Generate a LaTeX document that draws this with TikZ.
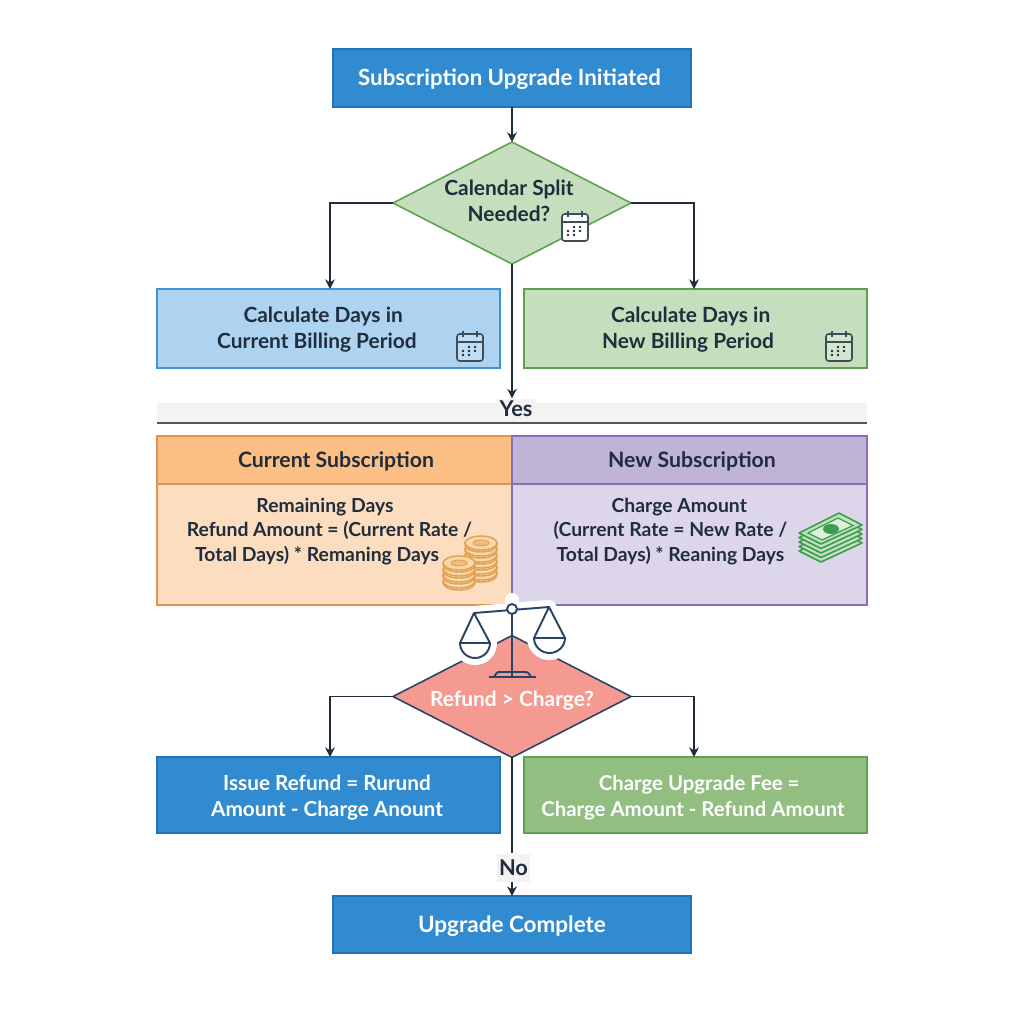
\documentclass[tikz,border=0pt]{standalone}
\usepackage{fontspec}
\setmainfont{Lato}
\usetikzlibrary{shapes.geometric,arrows.meta}
\definecolor{Ink}{HTML}{1F2D3D}
\definecolor{Navy}{HTML}{2A4468}
\definecolor{BlueFill}{HTML}{308BD0}
\definecolor{BlueEdge}{HTML}{2272B4}
\definecolor{PaleBlue}{HTML}{AED3F0}
\definecolor{PaleBlueEdge}{HTML}{3D94D8}
\definecolor{PaleGreen}{HTML}{C5DFBE}
\definecolor{GreenEdge}{HTML}{5FA050}
\definecolor{MidGreen}{HTML}{93BE82}
\definecolor{OrangeHead}{HTML}{FBBF85}
\definecolor{OrangeBody}{HTML}{FCDDBF}
\definecolor{OrangeEdge}{HTML}{DD9550}
\definecolor{PurpleHead}{HTML}{BFB3D8}
\definecolor{PurpleBody}{HTML}{DDD6EA}
\definecolor{PurpleEdge}{HTML}{8A6FB5}
\definecolor{Salmon}{HTML}{F49A90}
\definecolor{Band}{HTML}{F3F3F3}
\definecolor{CoinFill}{HTML}{F9D7A6}
\definecolor{CoinEdge}{HTML}{E0A052}
\definecolor{CashEdge}{HTML}{3E9B4F}
\definecolor{CashFill}{HTML}{BFE3BE}
\tikzset{
  x=.02cm,y=-.02cm,
  flowbox/.style={draw,rectangle,line width=.9pt,inner sep=0pt,outer sep=0pt},
  decide/.style={draw,diamond,line width=.9pt,inner sep=0pt,outer sep=0pt,minimum width=4.76cm,minimum height=2.44cm},
  lbl/.style={font=\fontsize{11.9}{14.8}\selectfont\bfseries,text=Ink,align=center,inner sep=0pt},
  lblw/.style={lbl,text=white},
  lblbody/.style={lbl,font=\fontsize{11}{14.1}\selectfont\bfseries},
  link/.style={line width=.8pt,draw=Ink,-{Stealth[length=5.5pt,width=5.5pt]}},
  wire/.style={line width=.8pt,draw=Ink},
  calicon/.pic={
    \fill[white,fill opacity=#1,rounded corners=1.5pt] (-13,-12) rectangle (13,15);
    \draw[line width=.9pt,draw=Ink!85,rounded corners=1.5pt] (-13,-12) rectangle (13,15);
    \draw[line width=.9pt,draw=Ink!85] (-13,-4) -- (13,-4);
    \draw[line width=.9pt,draw=Ink!85] (-7,-15) -- (-7,-9) (7,-15) -- (7,-9);
    \foreach \px/\py in {-1/1,5/1,-7/5,-1/5,5/5,-7/9,-1/9}
      \fill[Ink] (\px,\py) circle (1.4);
  },
  coinstack/.pic={
    \foreach \ly in {#1,...,0}{
      \draw[line width=.8pt,draw=CoinEdge,fill=CoinFill] (-16,\ly*6) -- (-16,\ly*6+2) arc[start angle=180,end angle=360,x radius=16,y radius=-7] -- (16,\ly*6) -- cycle;
      \draw[line width=.8pt,draw=CoinEdge,fill=CoinFill] (0,\ly*6) ellipse[x radius=16,y radius=7];
    }
    \draw[line width=.5pt,draw=CoinEdge,fill=CoinEdge!45!CoinFill] (0,0) ellipse[x radius=8,y radius=3];
  },
}
\begin{document}
\begin{tikzpicture}
\useasboundingbox (0,0) rectangle (1024,1024);
% top of the flow
\node[flowbox,fill=BlueFill,draw=BlueEdge,minimum width=7.16cm,minimum height=1.16cm] (start) at (512,78) {};
\node[lblw,font=\fontsize{12.7}{14.8}\selectfont\bfseries] (starttext) at (509.5,79) {Subscription Upgrade Initiated};
\node[decide,fill=PaleGreen,draw=GreenEdge] (split) at (512,203) {};
\node[lbl] (splittext) at (509,200.5) {Calendar Split\\Needed?};
\pic at (575,226) {calicon=1};
\node[flowbox,fill=PaleBlue,draw=PaleBlueEdge,minimum width=6.86cm,minimum height=1.58cm] (oldperiod) at (328.5,328.5) {};
\node[lbl] (oldtext) at (317,330) {\hspace*{7pt}Calculate Days in\\Current Billing Period};
\pic at (470,346) {calicon=.25};
\node[flowbox,fill=PaleGreen,draw=GreenEdge,minimum width=6.86cm,minimum height=1.58cm] (newperiod) at (695.5,328.5) {};
\node[lbl] (newtext) at (688,330) {\hspace*{3pt}Calculate Days in\\New Billing Period};
\pic at (839,346) {calicon=.25};
\coordinate (oldin) at (330,289);
\coordinate (newin) at (694,289);
\draw[link] (start) -- (split);
\draw[link] (split.west) -| (oldin);
\draw[link] (split.east) -| (newin);
% yes band
\node[rectangle,fill=Band,inner sep=0pt,outer sep=0pt,minimum width=14.2cm,minimum height=.4cm] (band) at (512,413) {};
\draw[line width=1pt,draw=Ink!80] (band.south west) -- (band.south east);
\node[lbl,fill=Band,inner xsep=2pt,inner ysep=1pt,font=\fontsize{12.4}{14.8}\selectfont\bfseries] (yes) at (516,408.5) {Yes};
\draw[link] (split.south) -- (yes.north -| split.south);
% the two subscriptions
\node[flowbox,fill=OrangeBody,draw=OrangeEdge,minimum width=7.1cm,minimum height=2.42cm] (curbody) at (334.5,544.5) {};
\node[flowbox,fill=PurpleBody,draw=PurpleEdge,minimum width=7.1cm,minimum height=2.42cm] (newbody) at (689.5,544.5) {};
\node[flowbox,fill=OrangeHead,draw=OrangeEdge,minimum width=7.1cm,minimum height=.96cm] (curhead) at (334.5,460) {};
\node[flowbox,fill=PurpleHead,draw=PurpleEdge,minimum width=7.1cm,minimum height=.96cm] (newhead) at (689.5,460) {};
\node[lbl,font=\fontsize{12.1}{14.8}\selectfont\bfseries] (curheadtext) at (336,461) {Current Subscription};
\node[lbl,font=\fontsize{12.1}{14.8}\selectfont\bfseries] (newheadtext) at (692,461) {New Subscription};
\node[lblbody] (curtext) at (325,531.5) {Remaining Days\\\hspace*{5pt}Refund Amount = (Current Rate /\\Total Days) * Remaning Days\hspace*{9pt}};
\node[lblbody] (newtext2) at (670.5,531.5) {\hspace*{10pt}Charge Amount\\(Current Rate = New Rate /\\Total Days) * Reaning Days};
\pic at (481,543) {coinstack=5};
\pic at (459,563) {coinstack=3};
% cash stack
\foreach \ly in {4,...,0}
  \draw[line width=.9pt,draw=CashEdge,fill=CashFill,line join=round] (799,533+\ly*4.5) -- (839,513+\ly*4.5) -- (862,525+\ly*4.5) -- (821,544+\ly*4.5) -- cycle;
\draw[line width=.7pt,draw=CashEdge,fill=CashFill!55!white] (808,533) -- (838,518) -- (853,525.5) -- (822,540) -- cycle;
\fill[CashEdge] (831,529) ellipse[x radius=8,y radius=5];
% second decision
\node[decide,fill=Salmon,draw=Navy] (cmp) at (512,696.5) {};
\node[lblw] (cmptext) at (512,701) {Refund > Charge?};
% scale with a white halo
\draw[white,line width=8pt,line cap=round,line join=round,fill=white] (474,613) -- (549,607)
  (474,613) -- (460,643) arc[start angle=180,end angle=360,x radius=15,y radius=-15] -- cycle
  (549,607) -- (534,638) arc[start angle=180,end angle=360,x radius=15.5,y radius=-15] -- cycle
  (512,609) -- (512,600);
\draw[Navy,line width=1.1pt,line join=round] (512,609) -- (512,677)
  (489,677) -- (536,677)
  (494,677) .. controls (497,672) and (497,672) .. (501,672) -- (524,672) .. controls (528,672) and (528,672) .. (531,677)
  (474,613) -- (549,607)
  (490,643) -- (474,613) -- (460,643) -- cycle
  (460,643) arc[start angle=180,end angle=360,x radius=15,y radius=-15]
  (565,638) -- (549,607) -- (534,638) -- cycle
  (534,638) arc[start angle=180,end angle=360,x radius=15.5,y radius=-15];
\draw[Navy,line width=1.1pt,fill=white] (512,609) circle (5);
% lower row
\node[flowbox,fill=BlueFill,draw=BlueEdge,minimum width=6.86cm,minimum height=1.52cm] (refund) at (328.5,795) {};
\node[lblw,font=\fontsize{11.8}{14.8}\selectfont\bfseries] (refundtext) at (327,798) {Issue Refund = Rurund\\Amount - Charge Anount};
\node[flowbox,fill=MidGreen,draw=GreenEdge,minimum width=6.86cm,minimum height=1.52cm] (charge) at (695.5,795) {};
\node[lblw,font=\fontsize{11.6}{14.8}\selectfont\bfseries] (chargetext) at (693,798) {\hspace*{7pt}Charge Upgrade Fee =\\Charge Amount - Refund Amount};
\coordinate (refundin) at (330,757);
\coordinate (chargein) at (694,757);
\draw[link] (cmp.west) -| (refundin);
\draw[link] (cmp.east) -| (chargein);
\node[flowbox,fill=BlueFill,draw=BlueEdge,minimum width=7.16cm,minimum height=1.14cm] (done) at (512,924.5) {};
\node[lblw,font=\fontsize{12.8}{14.8}\selectfont\bfseries] (donetext) at (512,926) {Upgrade Complete};
\node[lbl,fill=Band,minimum width=.66cm,minimum height=.56cm,font=\fontsize{12.4}{14.8}\selectfont\bfseries] (no) at (513.5,867.5) {No};
\draw[wire] (cmp.south) -- (no.north -| cmp.south);
\draw[link] (no.south -| done.north) -- (done.north);
\end{tikzpicture}
\end{document}
